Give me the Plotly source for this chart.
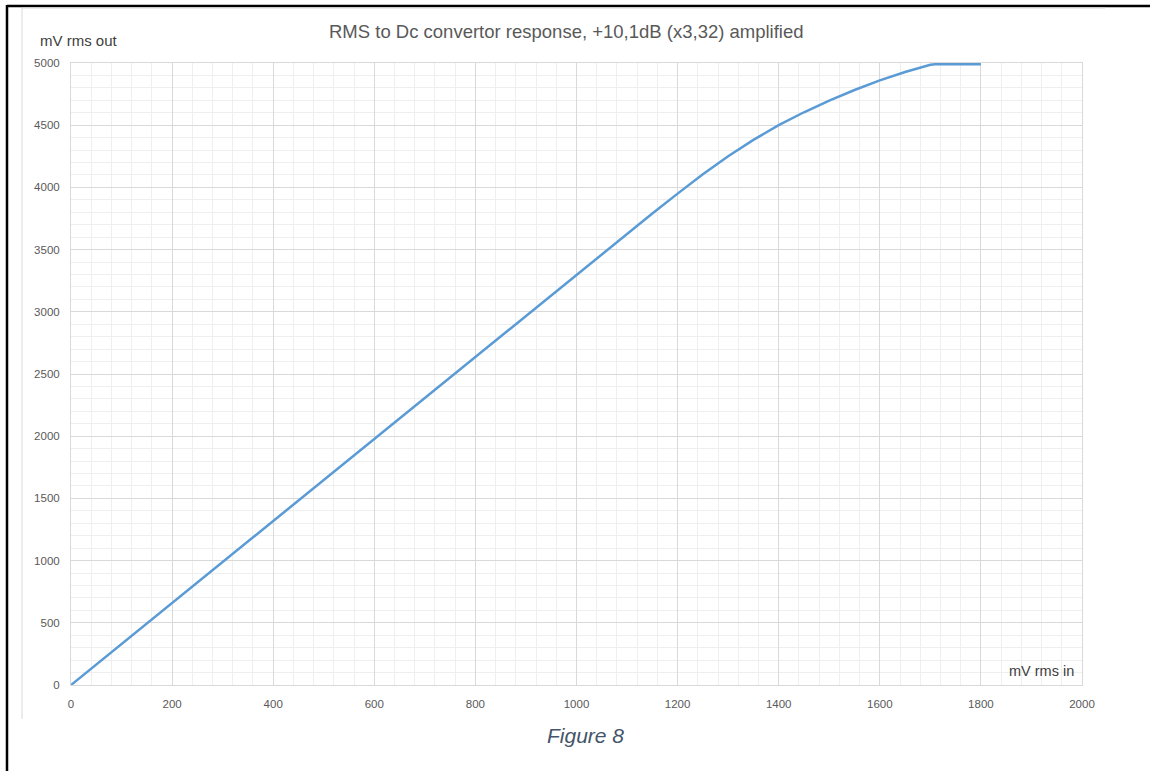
import plotly.graph_objects as go

# Data
mv_in = [0, 100, 200, 300, 400, 500, 600, 700, 800, 900, 1000, 1050, 1100, 1150, 1200,
         1250, 1300, 1350, 1400, 1450, 1500, 1550, 1600, 1650, 1700, 1710, 1800]
mv_out = [0, 330, 660, 990, 1320, 1650, 1980, 2310, 2640, 2970, 3295, 3460, 3625, 3790, 3950,
          4105, 4250, 4382, 4500, 4604, 4698, 4783, 4860, 4928, 4986, 4990, 4990]

title_text = "RMS to Dc convertor response, +10,1dB (x3,32) amplified"
y_title = "mV rms out"
x_title = "mV rms in"
caption = "Figure 8"

W, H = 1150, 771
L, R, T, B = 71, 68, 63, 86
pw, ph = W - L - R, H - T - B


def px(x):
    return (x - L) / pw


def py(y):
    return (H - B - y) / ph


FONT = "Liberation Sans, Arial, sans-serif"
fig = go.Figure()
fig.add_trace(go.Scatter(x=mv_in, y=mv_out, mode="lines",
                         line=dict(color="#5B9BD5", width=2.5), hoverinfo="x+y"))

axis_common = dict(showline=True, linecolor="#d9d9d9", linewidth=1, mirror=True,
                   showgrid=True, gridcolor="#d9d9d9", gridwidth=1, zeroline=False,
                   ticks="", tickfont=dict(family=FONT, size=11.5, color="#595959"))
fig.update_xaxes(range=[0, 2000], dtick=200, ticklabelstandoff=8,
                 minor=dict(dtick=40, showgrid=True, gridcolor="#efefef", gridwidth=1),
                 **axis_common)
fig.update_yaxes(range=[0, 5000], dtick=500, ticklabelstandoff=8,
                 minor=dict(dtick=100, showgrid=True, gridcolor="#efefef", gridwidth=1),
                 **axis_common)

shapes = [
    # outer black frame (top & left)
    dict(type="line", xref="paper", yref="paper", x0=px(7), x1=px(1150), y0=py(6), y1=py(6),
         line=dict(color="black", width=2.5)),
    dict(type="line", xref="paper", yref="paper", x0=px(7), x1=px(7), y0=py(5), y1=py(771),
         line=dict(color="black", width=2.5)),
    # chart area gray border (top & left)
    dict(type="line", xref="paper", yref="paper", x0=px(22), x1=px(1105), y0=py(8), y1=py(8),
         line=dict(color="#d9d9d9", width=1)),
    dict(type="line", xref="paper", yref="paper", x0=px(22), x1=px(22), y0=py(8), y1=py(719),
         line=dict(color="#d9d9d9", width=1)),
]

annotations = [
    dict(text=title_text, xref="paper", yref="paper", x=px(566), y=py(32),
         xanchor="center", yanchor="middle", showarrow=False,
         font=dict(family=FONT, size=18.5, color="#595959")),
    dict(text=y_title, xref="paper", yref="paper", x=px(38), y=py(40),
         xanchor="left", yanchor="middle", showarrow=False,
         font=dict(family=FONT, size=15, color="#404040")),
    dict(text=x_title, xref="paper", yref="paper", x=px(1076), y=py(671),
         xanchor="right", yanchor="middle", showarrow=False,
         font=dict(family=FONT, size=14.5, color="#404040")),
    dict(text="<i>" + caption + "</i>", xref="paper", yref="paper", x=px(585), y=py(735),
         xanchor="center", yanchor="middle", showarrow=False,
         font=dict(family=FONT, size=21, color="#44546A")),
]

fig.update_layout(width=W, height=H, margin=dict(l=L, r=R, t=T, b=B),
                  paper_bgcolor="white", plot_bgcolor="white", showlegend=False,
                  shapes=shapes, annotations=annotations)

fig.write_html("out.html")
